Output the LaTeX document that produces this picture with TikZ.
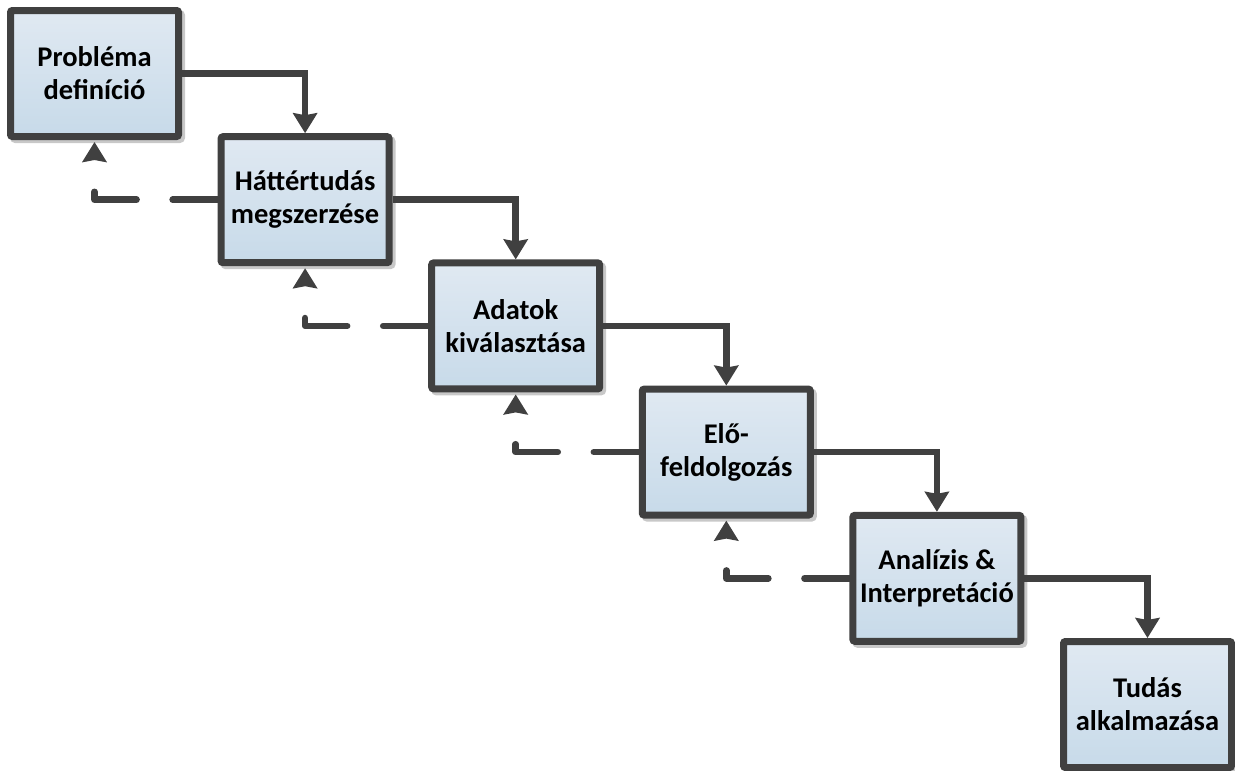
\documentclass[tikz,border=0pt]{standalone}
\usepackage{fontspec}
\setmainfont{Carlito}
\usetikzlibrary{arrows.meta,shadows}
\definecolor{edgegray}{RGB}{64,64,64}
\definecolor{filltop}{RGB}{224,233,242}
\definecolor{fillbot}{RGB}{199,218,233}
\definecolor{shadowgray}{RGB}{200,200,200}
\tikzset{
  stepbox/.style={draw=edgegray, line width=7pt, rounded corners=2pt,
    minimum width=168pt, minimum height=126pt, align=center,
    top color=filltop, bottom color=fillbot,
    font=\fontsize{28.5pt}{33pt}\selectfont\bfseries,
    drop shadow={shadow xshift=3pt, shadow yshift=-3pt, draw=shadowgray, line width=7pt, fill=shadowgray, opacity=1}},
  fwd/.style={draw=edgegray, line width=6.5pt, -{Stealth[width=24pt,length=20pt,inset=2pt]}},
  bwd/.style={draw=edgegray, line width=6.5pt, line cap=round, line join=round,
    dash pattern=on 45pt off 36pt on 50pt off 200pt, shorten >=2pt,
    -{Stealth[width=24pt,length=20pt,inset=2pt,line cap=butt]}},
}
\begin{document}
\begin{tikzpicture}[x=1pt,y=-1pt]
\useasboundingbox (0,0) rectangle (1235,771);
\node[stepbox] (b1) at (94.5,73.5) {Probléma\\definíció};
\node[stepbox] (b2) at (305.1,199.7) {Háttértudás\\megszerzése};
\node[stepbox] (b3) at (515.7,325.9) {Adatok\\kiválasztása};
\node[stepbox] (b4) at (726.3,452.1) {Elő-\\feldolgozás};
\node[stepbox] (b5) at (936.9,578.3) {Analízis \&\\Interpretáció};
\node[stepbox] (b6) at (1147.5,704.5) {Tudás\\alkalmazása};
\foreach \a/\b in {b1/b2,b2/b3,b3/b4,b4/b5,b5/b6}{
  \draw[fwd] (\a.east) -| (\b.north);
}
\foreach \a/\b in {b1/b2,b2/b3,b3/b4,b4/b5}{
  \draw[bwd] (\b.west) -| (\a.south);
}
\end{tikzpicture}
\end{document}
